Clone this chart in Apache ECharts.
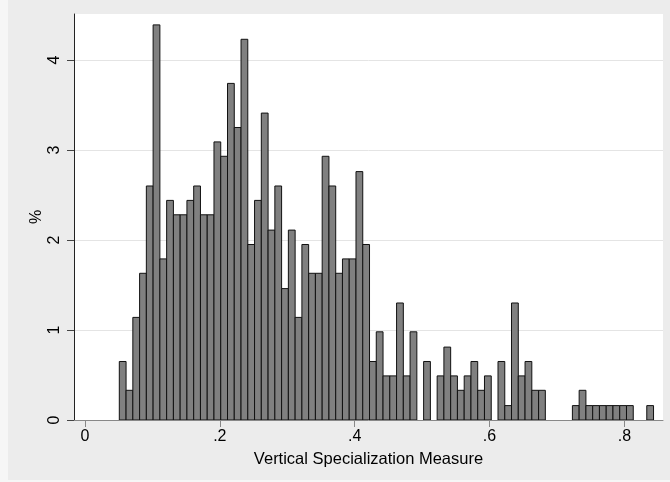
<!DOCTYPE html>
<html>
<head>
<meta charset="utf-8">
<script src="https://cdn.jsdelivr.net/npm/echarts@6/dist/echarts.min.js"></script>
<style>
  html, body { margin: 0; padding: 0; background: #f6f6f6; }
  #chart { width: 670px; height: 482px; }
</style>
</head>
<body>
<div id="chart"></div>
<script>
// Histogram of the vertical specialization measure (percent of observations per bin)
const binStart = 0.0509;
const binWidth = 0.01003;

// Percent of observations in each consecutive bin
const percents = [
  0.65, 0.33, 1.14, 1.63, 2.60, 4.39, 1.79, 2.44, 2.28, 2.28,
  2.44, 2.60, 2.28, 2.28, 3.09, 2.93, 3.74, 3.25, 4.23, 1.95,
  2.44, 3.41, 2.11, 2.60, 1.46, 2.11, 1.14, 1.95, 1.63, 1.63,
  2.93, 2.60, 1.63, 1.79, 1.79, 2.76, 1.95, 0.65, 0.98, 0.49,
  0.49, 1.30, 0.49, 0.98, 0.00, 0.65, 0.00, 0.49, 0.81, 0.49,
  0.33, 0.49, 0.65, 0.33, 0.49, 0.00, 0.65, 0.16, 1.30, 0.49,
  0.65, 0.33, 0.33, 0.00, 0.00, 0.00, 0.00, 0.16, 0.33, 0.16,
  0.16, 0.16, 0.16, 0.16, 0.16, 0.16, 0.00, 0.00, 0.16
];

const xTicks = [0, 0.2, 0.4, 0.6, 0.8];
const yTicks = [0, 1, 2, 3, 4];
const xTitle = 'Vertical Specialization Measure';
const yTitle = '%';

const bins = percents.map((p, i) => [binStart + i * binWidth, p]);

const font = "'Liberation Sans', Arial, Helvetica, sans-serif";

const chart = echarts.init(document.getElementById('chart'), null, { renderer: 'canvas' });

chart.setOption({
  backgroundColor: '#f6f6f6',
  animation: false,
  graphic: {
    elements: [{
      type: 'rect',
      z: -100,
      silent: true,
      shape: { x: 8, y: 0, width: 662, height: 480 },
      style: { fill: '#ececec' }
    }]
  },
  grid: {
    left: 74, top: 14, right: 7, bottom: 62,
    show: true,
    backgroundColor: '#ffffff',
    borderWidth: 0
  },
  xAxis: {
    type: 'value',
    min: -0.0163,
    max: 0.8573,
    name: xTitle,
    nameLocation: 'middle',
    nameGap: 31,
    nameMoveOverlap: false,
    nameTextStyle: { fontFamily: font, fontSize: 16.5, color: '#000' },
    axisLine: { show: true, onZero: false, lineStyle: { color: '#888888', width: 1 } },
    axisTick: { show: true, length: 7, customValues: xTicks, lineStyle: { color: '#888888', width: 1 } },
    axisLabel: {
      customValues: xTicks,
      margin: 9,
      fontFamily: font, fontSize: 16, color: '#000',
      formatter: v => (v === 0 ? '0' : String(+v.toFixed(1)).replace(/^0/, ''))
    },
    splitLine: { show: false }
  },
  yAxis: {
    type: 'value',
    min: 0,
    max: 4.511,
    name: yTitle,
    nameLocation: 'middle',
    nameRotate: 90,
    nameGap: 29,
    nameMoveOverlap: false,
    nameTextStyle: { fontFamily: font, fontSize: 16, color: '#000' },
    axisLine: { show: true, onZero: false, lineStyle: { color: '#222222', width: 1 } },
    axisTick: { show: true, length: 7, customValues: yTicks, lineStyle: { color: '#444444', width: 1 } },
    axisLabel: {
      customValues: yTicks,
      rotate: 90,
      margin: 11,
      fontFamily: font, fontSize: 16, color: '#000'
    },
    splitLine: { show: true, lineStyle: { color: '#e4e4e4', width: 1 } }
  },
  series: [{
    type: 'custom',
    data: bins,
    encode: { x: 0, y: 1 },
    clip: true,
    renderItem: function (params, api) {
      const x0 = api.value(0);
      const v = api.value(1);
      if (!v) return null;
      const p0 = api.coord([x0, 0]);
      const p1 = api.coord([x0 + binWidth, v]);
      return {
        type: 'rect',
        shape: { x: p0[0], y: p1[1], width: p1[0] - p0[0], height: p0[1] - p1[1] },
        style: { fill: '#808080', stroke: '#111111', lineWidth: 1 }
      };
    }
  }]
});
</script>
</body>
</html>
